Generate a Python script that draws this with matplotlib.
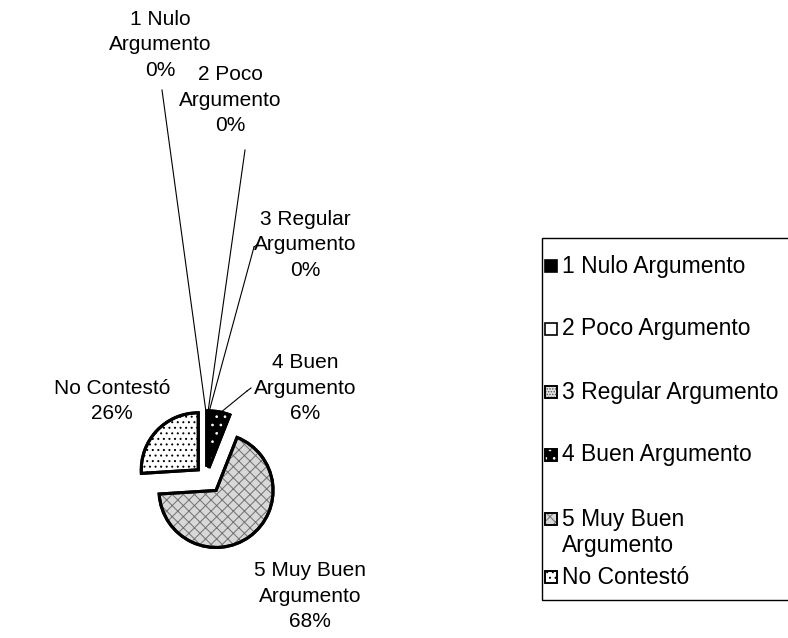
import matplotlib.pyplot as plt
import matplotlib.patches as mpatches
import numpy as np

W, H = 788, 638

categories = ["1 Nulo Argumento", "2 Poco Argumento", "3 Regular Argumento",
              "4 Buen Argumento", "5 Muy Buen Argumento", "No Contestó"]
pie_labels = ["1 Nulo\nArgumento\n0%", "2 Poco\nArgumento\n0%", "3 Regular\nArgumento\n0%",
              "4 Buen\nArgumento\n6%", "5 Muy Buen\nArgumento\n68%", "No Contestó\n26%"]
legend_labels = ["1 Nulo Argumento", "2 Poco Argumento", "3 Regular Argumento",
                 "4 Buen Argumento", "5 Muy Buen\nArgumento", "No Contestó"]
values = [0, 0, 0, 6, 68, 26]

# look of each slice: face, hatch, hatch colour
faces = ["black", "white", "#e0e0e0", "black", "#d8d8d8", "white"]
hatches = [None, None, "......", "..", "xxx", "..."]
hcolors = ["black", "black", "#555555", "white", "#707070", "black"]
explode = [0.2, 0.2, 0.2, 0.18, 0.27, 0.21]

plt.rcParams['font.family'] = ['Liberation Sans', 'DejaVu Sans']
plt.rcParams['hatch.linewidth'] = 0.7

fig = plt.figure(figsize=(W / 100, H / 100), dpi=100)
ax = fig.add_axes([0, 0, 1, 1])

def py(y):
    return H - y

cx, cy, R = 207, py(478), 57
wedges, _ = ax.pie(values, startangle=90, counterclock=False,
                   explode=[e * R for e in explode],
                   radius=R, center=(cx, cy), colors=faces,
                   wedgeprops=dict(edgecolor="black", linewidth=2.2))
for w, h, hc in zip(wedges, hatches, hcolors):
    if h:
        p = mpatches.Wedge(w.center, w.r, w.theta1, w.theta2, facecolor="none",
                           edgecolor=hc, hatch=h, linewidth=0, zorder=2)
        ax.add_patch(p)
        o = mpatches.Wedge(w.center, w.r, w.theta1, w.theta2, facecolor="none",
                           edgecolor="black", linewidth=2.2, zorder=3)
        ax.add_patch(o)

ax.set_xlim(0, W)
ax.set_ylim(0, H)
ax.set_aspect('auto')
ax.axis('off')

# slice labels
fs = 15
label_pos = [(160, 45), (230, 100), (305, 245), (305, 388), (310, 596), (112, 401)]
for txt, (x, y) in zip(pie_labels, label_pos):
    ax.text(x, py(y), txt, ha="center", va="center", fontsize=fs, linespacing=1.45)

# leader lines (label -> outer edge of slice)
leaders = [((162, 90), (206, 412)), ((245, 150), (208, 412)),
           ((254, 247), (209, 412)), ((247, 391), (220, 413))]
for (x0, y0), (x1, y1) in leaders:
    ax.plot([x0, x1], [py(y0), py(y1)], color="black", lw=0.8)
ax.plot([254, 258], [py(247), py(244)], color="black", lw=0.8)
ax.plot([247, 251], [py(391), py(388)], color="black", lw=0.8)

# legend box and entries
ax.add_patch(mpatches.Rectangle((542, py(600)), 300, 362, facecolor="none",
                                edgecolor="black", linewidth=1.0, clip_on=False))
rows = [266, 329, 392, 455, 519, 577]
for lab, y, f, h, hc in zip(legend_labels, rows, faces, hatches, hcolors):
    sq = mpatches.Rectangle((545, py(y) - 6), 12, 12, facecolor=f, edgecolor="black",
                            linewidth=1.2, zorder=3)
    ax.add_patch(sq)
    if h:
        ax.add_patch(mpatches.Rectangle((545, py(y) - 6), 12, 12, facecolor="none",
                                        edgecolor=hc, hatch=h, linewidth=0, zorder=4))
        ax.add_patch(mpatches.Rectangle((545, py(y) - 6), 12, 12, facecolor="none",
                                        edgecolor="black", linewidth=1.2, zorder=5))
    if "\n" in lab:
        ax.text(562, py(y) + 11, lab, ha="left", va="top", fontsize=16.5, linespacing=1.15)
    else:
        ax.text(562, py(y), lab, ha="left", va="center", fontsize=16.5)

fig.savefig("out.png", dpi=100)
